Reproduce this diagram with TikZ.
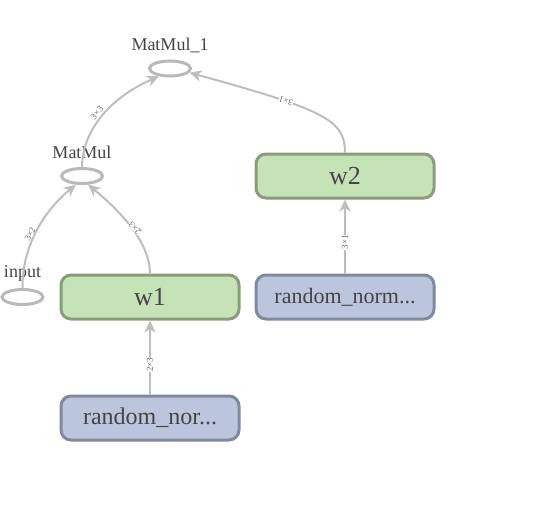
\documentclass[tikz,border=0pt]{standalone}
\usepackage{fontspec}
\setmainfont{Liberation Serif}
\usetikzlibrary{arrows.meta,shapes.geometric}
\definecolor{txt}{RGB}{68,68,68}
\definecolor{edgec}{RGB}{190,190,190}
\definecolor{ellc}{RGB}{185,185,185}
\definecolor{gfill}{RGB}{198,226,183}
\definecolor{gdraw}{RGB}{136,158,122}
\definecolor{bfill}{RGB}{187,198,222}
\definecolor{bdraw}{RGB}{128,138,158}
\tikzset{
  opnode/.style={ellipse, draw=ellc, line width=3pt, fill=white, minimum width=41pt, minimum height=15pt, inner sep=0pt},
  oplabel/.style={text=txt, font=\fontsize{18}{20}\selectfont, inner sep=0pt},
  varbox/.style={rounded corners=10pt, draw=gdraw, fill=gfill, line width=3pt, minimum width=178pt, minimum height=44pt, text=txt, font=\fontsize{26}{28}\selectfont, inner sep=0pt},
  rndbox/.style={rounded corners=10pt, draw=bdraw, fill=bfill, line width=3pt, minimum width=178pt, minimum height=44pt, text=txt, inner sep=0pt},
  flow/.style={draw=edgec, line width=2pt, -{Stealth[length=12pt, width=11pt, inset=3.5pt]}},
  elab/.style={text=txt!85, font=\fontsize{9}{9}\selectfont, fill=white, inner sep=0.2pt}
}
\begin{document}
\begin{tikzpicture}[x=1pt, y=-1pt]
\useasboundingbox (0,0) rectangle (555,528);
% op nodes
\node[opnode] (mm1) at (170,68.5) {};
\node[oplabel] (mm1l) at (170,45) {MatMul\_1};
\node[opnode] (mm) at (82,176) {};
\node[oplabel] (mml) at (82,152) {MatMul};
\node[opnode] (inp) at (22.5,297) {};
\node[oplabel] (inpl) at (22.5,273) {input};
% boxes
\node[varbox] (w2) at (345,176) {w2};
\node[varbox] (w1) at (150,297) {w1};
\node[rndbox, font=\fontsize{22}{24}\selectfont] (r2) at (345,297) {random\_norm...};
\node[rndbox, font=\fontsize{24}{26}\selectfont] (r1) at (150,418) {random\_nor...};
% edges
\draw[flow] (r1.north) -- (w1.south) node[elab, rotate=90, pos=0.4] (l1) {2×3};
\draw[flow] (r2.north) -- (w2.south) node[elab, rotate=90, pos=0.42] (l2) {3×1};
\draw[flow] (w1.north) .. controls (150,245) and (125,215) .. (mm.-55);
\node[elab, rotate=132] (l3) at (135,228) {2×3};
\draw[flow] (inp.north) .. controls (22,245) and (45,210) .. (mm.-125);
\node[elab, rotate=64] (l4) at (30,234) {3×2};
\draw[flow] (mm.north) .. controls (82,135) and (105,100) .. (mm1.-145);
\node[elab, rotate=50] (l5) at (97,113) {3×3};
\draw[flow] (w2.north) .. controls (345,120) and (325,110) .. (mm1.-12);
\node[elab, rotate=162] (l6) at (286,101) {3×1};
\end{tikzpicture}
\end{document}
